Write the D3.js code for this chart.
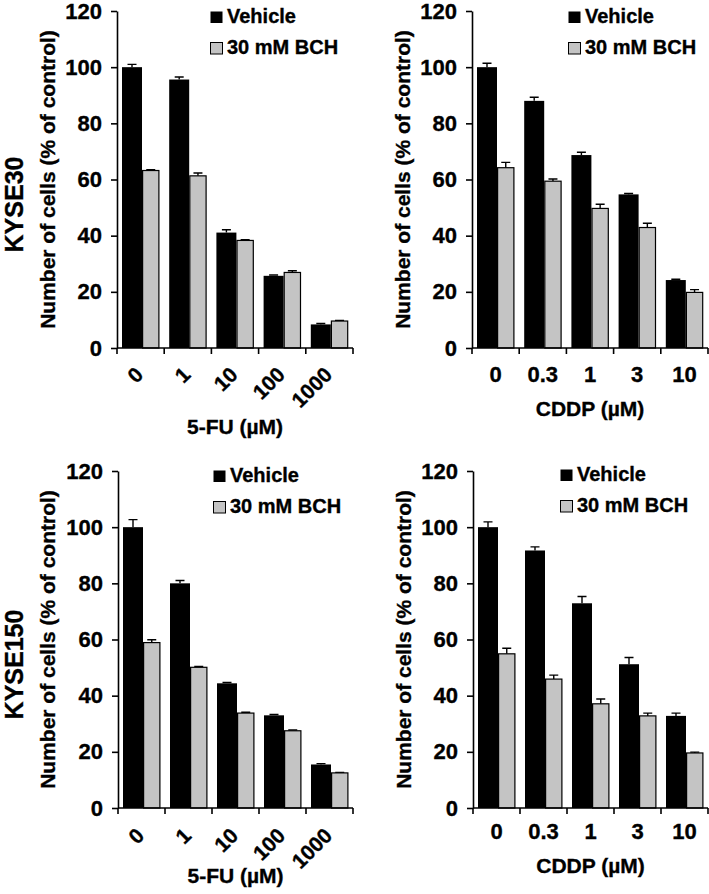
<!DOCTYPE html>
<html>
<head>
<meta charset="utf-8">
<script src="https://cdn.jsdelivr.net/npm/d3@7"></script>
<style>
  html, body { margin: 0; padding: 0; background: #fff; }
  svg { display: block; }
  text { font-family: "Liberation Sans", Arial, sans-serif; font-weight: bold; fill: #000; stroke: #000; stroke-width: 0.35px; }
</style>
</head>
<body>
<svg id="chart" width="709" height="894"></svg>
<script>
// ---------------- data ----------------
const fuDoses = ["0", "1", "10", "100", "1000"];
const cddpDoses = ["0", "0.3", "1", "3", "10"];
const seriesNames = ["Vehicle", "30 mM BCH"];
const yTicks = [0, 20, 40, 60, 80, 100, 120];
const cellLines = ["KYSE30", "KYSE150"];
const fuTitle = "5-FU (\u00B5M)";
const cddpTitle = "CDDP (\u00B5M)";
const yTitle = "Number of cells (% of control)";

const kyse30FuVehicle = [100, 95.6, 41.1, 25.7, 8.4];
const kyse30FuVehicleErr = [1.0, 0.9, 1.0, 0.3, 0.3];
const kyse30FuBch = [63.2, 61.3, 38.3, 26.9, 9.6];
const kyse30FuBchErr = [0.3, 1.0, 0.3, 0.6, 0.2];

const kyse30CddpVehicle = [100, 88.0, 68.7, 54.7, 24.2];
const kyse30CddpVehicleErr = [1.4, 1.3, 1.0, 0.3, 0.3];
const kyse30CddpBch = [64.2, 59.4, 49.7, 42.9, 19.8];
const kyse30CddpBchErr = [1.9, 0.8, 1.5, 1.5, 1.0];

const kyse150FuVehicle = [100, 80.0, 44.4, 33.0, 15.5];
const kyse150FuVehicleErr = [2.7, 1.0, 0.3, 0.3, 0.3];
const kyse150FuBch = [58.9, 50.1, 33.8, 27.5, 12.5];
const kyse150FuBchErr = [1.0, 0.3, 0.3, 0.3, 0.2];

const kyse150CddpVehicle = [100, 91.7, 72.9, 51.2, 32.8];
const kyse150CddpVehicleErr = [1.9, 1.3, 2.4, 2.4, 1.0];
const kyse150CddpBch = [54.9, 45.9, 37.1, 32.8, 19.6];
const kyse150CddpBchErr = [2.0, 1.4, 1.7, 1.0, 0.3];

// ---------------- layout ----------------
const panels = [
  { doses: fuDoses, vals: [kyse30FuVehicle, kyse30FuBch], errs: [kyse30FuVehicleErr, kyse30FuBchErr],
    title: fuTitle, row: cellLines[0],
    left: 117, right: 353, top: 11, bottom: 348, rotated: true, tickOff: 28, titleY: 434,
    legX: 210, legY: 23, yTitleX: 55 },
  { doses: cddpDoses, vals: [kyse30CddpVehicle, kyse30CddpBch], errs: [kyse30CddpVehicleErr, kyse30CddpBchErr],
    title: cddpTitle, row: null,
    left: 472, right: 708, top: 11, bottom: 348, rotated: false, tickOff: 34, titleY: 416,
    legX: 568, legY: 23, yTitleX: 410 },
  { doses: fuDoses, vals: [kyse150FuVehicle, kyse150FuBch], errs: [kyse150FuVehicleErr, kyse150FuBchErr],
    title: fuTitle, row: cellLines[1],
    left: 118, right: 353, top: 471, bottom: 808, rotated: true, tickOff: 29, titleY: 883,
    legX: 213, legY: 482, yTitleX: 55 },
  { doses: cddpDoses, vals: [kyse150CddpVehicle, kyse150CddpBch], errs: [kyse150CddpVehicleErr, kyse150CddpBchErr],
    title: cddpTitle, row: null,
    left: 473, right: 708, top: 471, bottom: 808, rotated: false, tickOff: 31, titleY: 873,
    legX: 560, legY: 481, yTitleX: 411 }
];

const colors = ["#000000", "#c4c4c4"];
const svg = d3.select("#chart");

panels.forEach(p => {
  const g = svg.append("g");
  const x = d3.scaleBand().domain(p.doses).range([p.left, p.right]).padding(0);
  const y = d3.scaleLinear().domain([0, 120]).range([p.bottom, p.top]);
  const step = x.step();
  const inner = d3.scaleOrdinal().domain(seriesNames).range([5, 25]);
  const widths = [20, 17.5];

  seriesNames.forEach((s, si) => {
    const data = p.doses.map((d, i) => ({ d, v: p.vals[si][i], e: p.errs[si][i] }));
    g.selectAll(null).data(data).enter().append("path")
      .attr("d", r => {
        const cx = x(r.d) + inner(s) + widths[si] / 2;
        const yt = y(r.v + r.e);
        return `M${cx},${y(r.v)}V${yt}M${cx - 4.5},${yt}H${cx + 4.5}`;
      })
      .attr("stroke", "#000").attr("stroke-width", 1.4).attr("fill", "none");
    g.selectAll(null).data(data).enter().append("rect")
      .attr("x", r => x(r.d) + inner(s) + (si === 1 ? 0.6 : 0))
      .attr("y", r => y(r.v))
      .attr("width", widths[si] - (si === 1 ? 1.2 : 0))
      .attr("height", r => y(0) - y(r.v))
      .attr("fill", colors[si])
      .attr("stroke", si === 1 ? "#000" : "none")
      .attr("stroke-width", 1.2);
  });

  const yAxis = g.append("g").attr("transform", `translate(${p.left},0)`)
    .call(d3.axisLeft(y).tickValues(yTicks).tickSize(6).tickSizeOuter(0).tickPadding(9));
  yAxis.selectAll("path, line").attr("stroke", "#000").attr("stroke-width", 1.6);
  yAxis.selectAll("text").style("font-size", "22px").style("font-family", "Liberation Sans, Arial, sans-serif")
    .style("font-weight", "bold").attr("fill", "#000");

  g.append("line").attr("x1", p.left).attr("x2", p.right).attr("y1", y(0)).attr("y2", y(0))
    .attr("stroke", "#000").attr("stroke-width", 1.6);
  const bounds = p.doses.map(d => x(d)).concat([x(p.doses[p.doses.length - 1]) + step]);
  g.selectAll(null).data(bounds).enter().append("line")
    .attr("x1", b => b).attr("x2", b => b).attr("y1", y(0)).attr("y2", y(0) + 6)
    .attr("stroke", "#000").attr("stroke-width", 1.6);

  p.doses.forEach(d => {
    const cx = x(d) + step / 2;
    if (p.rotated) {
      g.append("text").attr("text-anchor", "end")
        .attr("transform", `translate(${cx + 4},${y(0) + p.tickOff}) rotate(-45)`)
        .style("font-size", "21px").text(d);
    } else {
      g.append("text").attr("text-anchor", "middle").attr("x", cx).attr("y", y(0) + p.tickOff)
        .style("font-size", "22px").text(d);
    }
  });

  g.append("text").attr("text-anchor", "middle").attr("x", (p.left + p.right) / 2).attr("y", p.titleY)
    .style("font-size", "21px").text(p.title);

  g.append("text").attr("text-anchor", "middle")
    .attr("transform", `translate(${p.yTitleX},${(p.top + p.bottom) / 2}) rotate(-90)`)
    .style("font-size", "21px").text(yTitle);

  if (p.row) {
    g.append("text").attr("text-anchor", "middle")
      .attr("transform", `translate(23,${(p.top + p.bottom) / 2 + 25}) rotate(-90)`)
      .style("font-size", "25px").text(p.row);
  }

  seriesNames.forEach((s, si) => {
    const by = p.legY + si * 31;
    g.append("rect").attr("x", p.legX + 0.5).attr("y", by - 11.5).attr("width", 12).attr("height", 11.5)
      .attr("fill", colors[si]).attr("stroke", "#000").attr("stroke-width", si === 1 ? 1 : 0);
    g.append("text").attr("x", p.legX + 17).attr("y", by).style("font-size", "20px").text(s);
  });
});
</script>
</body>
</html>
